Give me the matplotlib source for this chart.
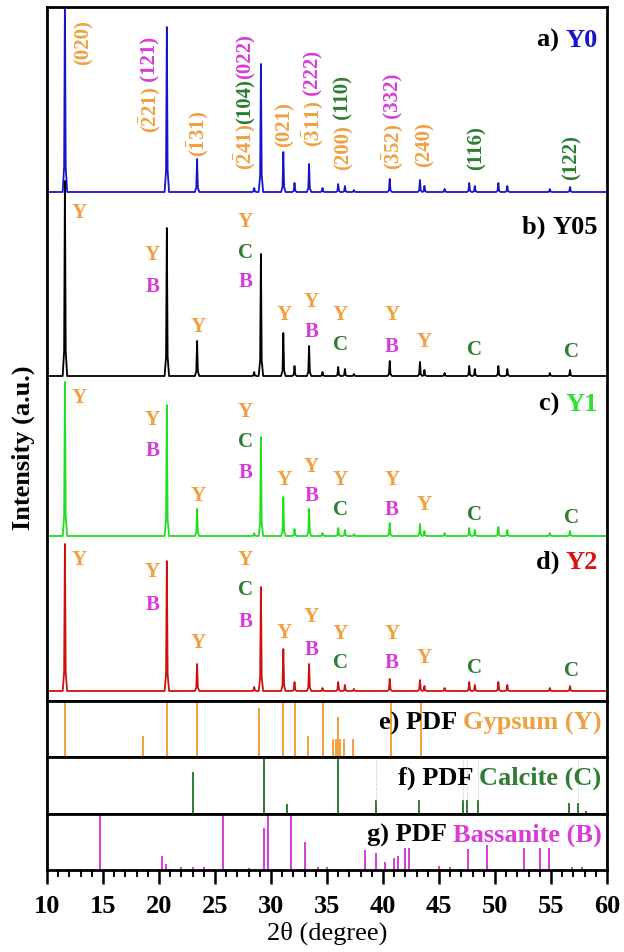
import matplotlib
matplotlib.use("Agg")
import matplotlib.pyplot as plt
from matplotlib.ticker import MultipleLocator

plt.rcParams["font.family"] = ["Liberation Serif", "DejaVu Serif"]
plt.rcParams["font.weight"] = "bold"
plt.rcParams["mathtext.fontset"] = "custom"
plt.rcParams["mathtext.rm"] = "Liberation Serif:bold"
plt.rcParams["mathtext.it"] = "Liberation Serif:bold"
plt.rcParams["mathtext.bf"] = "Liberation Serif:bold"

# XRD peaks shared by all four samples (2theta, degrees)
PEAK_POS = [11.6, 20.7, 23.4, 28.5, 29.1, 31.1, 32.1, 33.4, 34.6, 36.0, 36.6, 37.4,
            40.6, 43.3, 43.7, 45.5, 47.7, 48.2, 50.3, 51.1, 54.9, 56.7]
# peak heights (a.u.) per sample
Y0 = [195, 165, 33, 4, 128, 40, 9, 28, 4, 8, 6, 2, 13, 12, 6, 3, 9, 6, 9, 6, 3, 5]
Y05 = [195, 148, 35, 4, 122, 43, 10, 30, 4, 9, 7, 2, 15, 14, 6, 3, 10, 7, 10, 7, 3, 6]
Y1 = [154, 131, 27, 3, 99, 39, 7, 27, 3, 8, 6, 2, 13, 12, 5, 3, 8, 6, 9, 6, 3, 5]
Y2 = [147, 130, 27, 4, 104, 42, 9, 27, 3, 9, 6, 2, 12, 11, 5, 3, 9, 6, 9, 6, 3, 5]
SAMPLES = ["Y0", "Y05", "Y1", "Y2"]
SAMPLE_TAGS = ["a)", "b)", "c)", "d)"]

# phase markers over the peaks of b, c, d
LBL_X = [12.9, 19.4, 23.5, 27.7, 31.2, 33.6, 36.2, 40.8, 43.7, 48.2, 56.8]
LBL_TXT = ["Y", "YB", "Y", "YCB", "Y", "YB", "YC", "YB", "Y", "C", "C"]
LBL_Y05 = [[164], [122, 90], [50], [155, 124, 95], [62], [75, 45], [62, 32], [62, 30], [35], [27], [25]]
LBL_Y1 = [[139], [117, 86], [41], [125, 95, 64], [57], [70, 41], [57, 27], [57, 27], [32], [22], [19]]
LBL_Y2 = [[132], [120, 87], [49], [132, 102, 70], [59], [75, 42], [58, 29], [58, 29], [34], [24], [21]]

# Miller indices on the Y0 pattern: x, bottom of text, pieces (text, phase)
HKL = [
    (13.25, 637, [("(020)", "Y")]),
    (19.2, 569, [(r"($\bar{2}$21)", "Y"), (" (121)", "B")]),
    (23.5, 545, [(r"($\bar{1}$31)", "Y")]),
    (27.7, 532, [(r"($\bar{2}$41)", "Y"), ("(104)", "C"), ("(022)", "B")]),
    (31.25, 555, [("(021)", "Y")]),
    (33.8, 555, [(r"($\bar{3}$11)", "Y"), (" (222)", "B")]),
    (36.5, 532, [("(200)", "Y"), (" (110)", "C")]),
    (40.9, 532, [(r"($\bar{3}$52)", "Y"), (" (332)", "B")]),
    (43.75, 535, [("(240)", "Y")]),
    (48.4, 532, [("(116)", "C")]),
    (56.8, 522, [("(122)", "C")]),
]

# reference stick patterns
GYP_POS = [11.6, 18.6, 20.7, 23.4, 28.9, 31.1, 32.1, 33.3, 34.6, 35.5, 35.8, 36.0,
           36.2, 36.5, 37.3, 40.7, 43.4]
GYP_I = [110, 38, 110, 110, 88, 110, 110, 38, 110, 33, 33, 72, 33, 33, 33, 110, 110]
CAL_POS = [23.0, 29.4, 31.4, 36.0, 39.4, 43.2, 47.1, 47.5, 48.5, 56.6, 57.4, 58.1]
CAL_I = [73, 110, 18, 110, 24, 24, 24, 24, 24, 20, 20, 5]
CAL_FAINT = [39.4, 47.1, 47.5, 48.5, 57.4]
BAS_POS = [14.7, 20.3, 20.6, 22.0, 23.0, 24.0, 25.7, 28.0, 29.4, 29.7, 31.8, 33.0,
           34.2, 35.0, 38.4, 39.4, 40.2, 41.0, 41.3, 42.0, 42.3, 45.0, 46.0, 47.6,
           49.3, 52.6, 54.0, 54.8, 56.9, 57.8]
BAS_I = [110, 25, 10, 5, 5, 5, 110, 4, 75, 110, 110, 50, 6, 6, 36, 30, 15, 22, 25,
         40, 40, 8, 6, 38, 44, 40, 40, 40, 5, 5]

COL = {"Y": "#F0A040", "B": "#D83CD8", "C": "#2E7D32"}
TRACE_COL = ["#1616C8", "black", "#22DD22", "#CC1111"]
NAME_COL = ["#1616C8", "black", "#33DD33", "#DD1111"]
OFFSETS = [509, 325, 165, 10]
TAG_Y = [650, 463, 286, 128]


def profile(pos, heights):
    x, y = [10.0], [0.0]
    for p, h in zip(pos, heights):
        x += [p - 0.2, p - 0.07, p, p + 0.07, p + 0.2]
        y += [0, 0.13 * h, h, 0.13 * h, 0]
    x.append(60.0)
    y.append(0.0)
    return x, y


W, H = 624, 953
L, R = 47 / W, 607 / W


def rect(top, bot):
    return [L, 1 - bot / H, R - L, (bot - top) / H]


fig = plt.figure(figsize=(W / 100, H / 100), dpi=100)
ax = fig.add_axes(rect(8, 702))
axe = fig.add_axes(rect(702, 758))
axf = fig.add_axes(rect(758, 815))
axg = fig.add_axes(rect(815, 871))

for a in (ax, axe, axf, axg):
    a.set_xlim(10, 60)
    a.set_yticks([])
    for s in a.spines.values():
        s.set_linewidth(2.0)
for a in (ax, axe, axf):
    a.tick_params(axis="x", bottom=False, labelbottom=False)
ax.set_ylim(0, 694)

for i, heights in enumerate([Y0, Y05, Y1, Y2]):
    x, y = profile(PEAK_POS, heights)
    ax.plot(x, [v + OFFSETS[i] for v in y], color=TRACE_COL[i], lw=1.3)
    t = ax.text(59.2, TAG_Y[i], SAMPLES[i], color=NAME_COL[i], fontsize=19,
                ha="right", va="bottom")
    ax.annotate(SAMPLE_TAGS[i] + " ", xy=(0, 0), xycoords=t, ha="right",
                va="bottom", fontsize=19, color="black")

for i, lbls in zip([1, 2, 3], [LBL_Y05, LBL_Y1, LBL_Y2]):
    for x, txt, ys in zip(LBL_X, LBL_TXT, lbls):
        for ch, yy in zip(txt, ys):
            ax.text(x, OFFSETS[i] + yy, ch, color=COL[ch], fontsize=15,
                    ha="center", va="center")

for x, y0, pieces in HKL:
    prev = None
    for txt, ph in pieces:
        if prev is None:
            prev = ax.text(x, y0, txt, color=COL[ph], fontsize=15, rotation=90,
                           ha="center", va="bottom")
        else:
            prev = ax.annotate(txt, xy=(0.5, 1), xycoords=prev, color=COL[ph],
                               fontsize=15, rotation=90, ha="center", va="bottom")

# stick panels
for a, pos, inten, ph, tag, name, ty in [
    (axe, GYP_POS, GYP_I, "Y", "e)", "Gypsum (Y)", 0.50),
    (axf, CAL_POS, CAL_I, "C", "f)", "Calcite (C)", 0.54),
    (axg, BAS_POS, BAS_I, "B", "g)", "Bassanite (B)", 0.52),
]:
    a.set_ylim(0, 100)
    a.vlines(pos, 0, inten, color=COL[ph], lw=1.4)
    t = a.text(59.5, ty, name, transform=a.get_xaxis_transform(), color=COL[ph],
               fontsize=19, ha="right", va="baseline")
    a.annotate(tag + " PDF ", xy=(0, 0), xycoords=t, ha="right", va="bottom",
               fontsize=19, color="black")
axf.vlines(CAL_FAINT, 24, 100, color="#9ccf9c", lw=0.7, linestyles=":")

axg.xaxis.set_major_locator(MultipleLocator(5))
axg.xaxis.set_minor_locator(MultipleLocator(1))
axg.tick_params(axis="x", which="major", direction="out", length=10, width=1.8,
                labelsize=19, pad=7)
axg.tick_params(axis="x", which="minor", direction="out", length=5, width=1.4)
axg.set_xlabel("2θ (degree)", fontsize=19, labelpad=3)

fig.text(0.038, 0.53, "Intensity (a.u.)", rotation=90, ha="center", va="center",
         fontsize=19)

fig.savefig("out.png", dpi=100)
